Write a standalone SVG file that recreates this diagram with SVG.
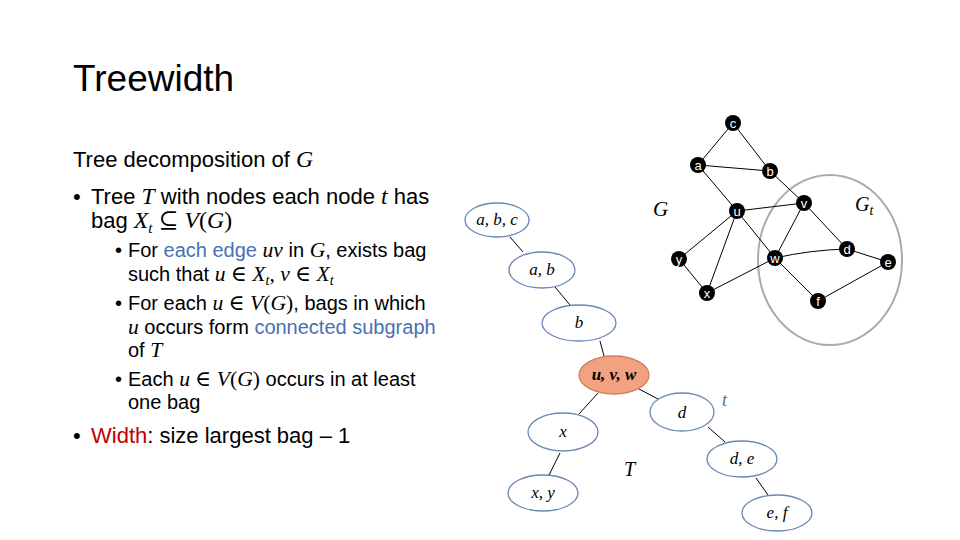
<svg xmlns="http://www.w3.org/2000/svg" width="960" height="540" viewBox="0 0 960 540">
<style>
.t1{font-family:"Liberation Sans",Arial,sans-serif;font-size:22px;fill:#000}
.t2{font-family:"Liberation Sans",Arial,sans-serif;font-size:20px;fill:#000}
.m{font-family:"Liberation Serif","DejaVu Serif",serif;font-style:italic;font-size:1.08em}
.mr{font-family:"Liberation Serif","DejaVu Serif",serif;font-size:1.08em}
.sub{font-family:"Liberation Serif","DejaVu Serif",serif;font-style:italic;font-size:0.7em}
.blue{fill:#4A6FB5}
.red{fill:#C00000}
.edge{stroke:#000;stroke-width:1}
.gn{fill:#000}
.gl{font-family:"Liberation Sans",Arial,sans-serif;font-size:13px;fill:#fff;text-anchor:middle}
.bag{fill:#fff;stroke:#6B86B5;stroke-width:1.3}
.bagh{fill:#F2A283;stroke:#C8805F;stroke-width:1.3}
.bl{font-family:"Liberation Serif","DejaVu Serif",serif;font-style:italic;font-size:17px;fill:#000;text-anchor:middle}
</style>
<rect width="960" height="540" fill="#fff"/>
<text x="73" y="91" style="font-family:'Liberation Sans',Arial,sans-serif;font-size:37px;fill:#000">Treewidth</text>

<g id="text">
<text class="t1" x="73" y="167">Tree decomposition of <tspan class="m">G</tspan></text>
<text class="t1" x="73" y="204">•</text>
<text class="t1" x="91" y="204">Tree <tspan class="m">T</tspan> with nodes each node <tspan class="m">t</tspan> has</text>
<text class="t1" x="91" y="228">bag <tspan class="m">X</tspan><tspan class="sub" dy="5">t</tspan><tspan dy="-5"> </tspan><tspan class="mr">⊆ </tspan><tspan class="m">V</tspan><tspan class="mr">(</tspan><tspan class="m">G</tspan><tspan class="mr">)</tspan></text>
<text class="t2" x="115" y="257">•</text>
<text class="t2" x="128" y="257">For <tspan class="blue">each edge</tspan> <tspan class="m">uv</tspan> in <tspan class="m">G</tspan>, exists bag</text>
<text class="t2" x="128" y="281">such that <tspan class="m">u</tspan><tspan class="mr"> ∈ </tspan><tspan class="m">X</tspan><tspan class="sub" dy="4">t</tspan><tspan class="mr" dy="-4">, </tspan><tspan class="m">v</tspan><tspan class="mr"> ∈ </tspan><tspan class="m">X</tspan><tspan class="sub" dy="4">t</tspan></text>
<text class="t2" x="115" y="310">•</text>
<text class="t2" x="128" y="310">For each <tspan class="m">u</tspan><tspan class="mr"> ∈ </tspan><tspan class="m">V</tspan><tspan class="mr">(</tspan><tspan class="m">G</tspan><tspan class="mr">)</tspan>, bags in which</text>
<text class="t2" x="128" y="334"><tspan class="m">u</tspan> occurs form <tspan class="blue">connected subgraph</tspan></text>
<text class="t2" x="128" y="357">of <tspan class="m">T</tspan></text>
<text class="t2" x="115" y="386">•</text>
<text class="t2" x="128" y="386">Each <tspan class="m">u</tspan><tspan class="mr"> ∈ </tspan><tspan class="m">V</tspan><tspan class="mr">(</tspan><tspan class="m">G</tspan><tspan class="mr">)</tspan> occurs in at least</text>
<text class="t2" x="128" y="409">one bag</text>
<text class="t1" x="73" y="443">•</text>
<text class="t1" x="91" y="443"><tspan class="red">Width</tspan>: size largest bag – 1</text>
</g>

<!-- Graph G -->
<ellipse id="Gt-region" cx="830" cy="260" rx="72" ry="85" fill="none" stroke="#AAAAAA" stroke-width="2"/>
<text x="653" y="216" style="font-family:'Liberation Serif',serif;font-style:italic;font-size:21px">G</text>
<text x="855" y="211" style="font-family:'Liberation Serif',serif;font-style:italic;font-size:20px">G<tspan style="font-size:14px" dy="4">t</tspan></text>

<g id="graph-edges">
<line class="edge" x1="733" y1="123" x2="698" y2="165"/>
<line class="edge" x1="733" y1="123" x2="770" y2="171"/>
<line class="edge" x1="698" y1="165" x2="770" y2="171"/>
<line class="edge" x1="698" y1="165" x2="737" y2="211"/>
<line class="edge" x1="770" y1="171" x2="804" y2="203"/>
<line class="edge" x1="737" y1="211" x2="804" y2="203"/>
<line class="edge" x1="737" y1="211" x2="679" y2="259"/>
<line class="edge" x1="737" y1="211" x2="707" y2="293"/>
<line class="edge" x1="737" y1="211" x2="775" y2="258"/>
<line class="edge" x1="804" y1="203" x2="775" y2="258"/>
<line class="edge" x1="804" y1="203" x2="847" y2="249"/>
<line class="edge" x1="679" y1="259" x2="707" y2="293"/>
<line class="edge" x1="707" y1="293" x2="775" y2="258"/>
<path class="edge" fill="none" d="M775 258 Q810 250 847 249"/>
<line class="edge" x1="775" y1="258" x2="818" y2="301"/>
<line class="edge" x1="847" y1="249" x2="888" y2="262"/>
<line class="edge" x1="888" y1="262" x2="818" y2="301"/>
</g>

<g id="gnode-c"><circle class="gn" cx="733" cy="123" r="8"/><text class="gl" x="733" y="127.5">c</text></g>
<g id="gnode-a"><circle class="gn" cx="698" cy="165" r="8"/><text class="gl" x="698" y="169.5">a</text></g>
<g id="gnode-b"><circle class="gn" cx="770" cy="171" r="8"/><text class="gl" x="770" y="175.5">b</text></g>
<g id="gnode-u"><circle class="gn" cx="737" cy="211" r="8"/><text class="gl" x="737" y="215.5">u</text></g>
<g id="gnode-v"><circle class="gn" cx="804" cy="203" r="8"/><text class="gl" x="804" y="207.5">v</text></g>
<g id="gnode-y"><circle class="gn" cx="679" cy="259" r="8"/><text class="gl" x="679" y="263.5">y</text></g>
<g id="gnode-w"><circle class="gn" cx="775" cy="258" r="8"/><text class="gl" x="775" y="262.5">w</text></g>
<g id="gnode-d"><circle class="gn" cx="847" cy="249" r="8"/><text class="gl" x="847" y="253.5">d</text></g>
<g id="gnode-e"><circle class="gn" cx="888" cy="262" r="8"/><text class="gl" x="888" y="266.5">e</text></g>
<g id="gnode-x"><circle class="gn" cx="707" cy="293" r="8"/><text class="gl" x="707" y="297.5">x</text></g>
<g id="gnode-f"><circle class="gn" cx="818" cy="301" r="8"/><text class="gl" x="818" y="305.5">f</text></g>

<!-- Tree T -->
<g id="tree-edges">
<line class="edge" x1="510" y1="237" x2="523" y2="252"/>
<line class="edge" x1="555" y1="287" x2="570" y2="305"/>
<line class="edge" x1="600" y1="341" x2="604" y2="356"/>
<line class="edge" x1="598" y1="393" x2="579" y2="414"/>
<line class="edge" x1="639" y1="389" x2="658" y2="399"/>
<line class="edge" x1="708" y1="427" x2="725" y2="442"/>
<line class="edge" x1="560" y1="453" x2="549" y2="475"/>
<line class="edge" x1="756" y1="478" x2="768" y2="495"/>
</g>

<g id="bag-abc"><ellipse class="bag" cx="497" cy="220" rx="32" ry="17"/><text class="bl" x="497" y="225">a, b, c</text></g>
<g id="bag-ab"><ellipse class="bag" cx="542" cy="270" rx="33" ry="18"/><text class="bl" x="542" y="275">a, b</text></g>
<g id="bag-b"><ellipse class="bag" cx="579" cy="323" rx="37" ry="18"/><text class="bl" x="579" y="328">b</text></g>
<g id="bag-uvw"><ellipse class="bagh" cx="614" cy="375" rx="35" ry="19"/><text class="bl" x="614" y="380" font-weight="bold">u, v, w</text></g>
<g id="bag-d"><ellipse class="bag" cx="682" cy="412" rx="32" ry="19"/><text class="bl" x="682" y="418">d</text></g>
<g id="bag-x"><ellipse class="bag" cx="563" cy="432" rx="35" ry="19"/><text class="bl" x="563" y="437">x</text></g>
<g id="bag-xy"><ellipse class="bag" cx="543" cy="493" rx="35" ry="18"/><text class="bl" x="543" y="498">x, y</text></g>
<g id="bag-de"><ellipse class="bag" cx="742" cy="459" rx="35" ry="18"/><text class="bl" x="742" y="464">d, e</text></g>
<g id="bag-ef"><ellipse class="bag" cx="777" cy="513" rx="35" ry="18"/><text class="bl" x="777" y="518">e, f</text></g>

<text x="722" y="406" style="font-family:'Liberation Serif',serif;font-style:italic;font-size:18px;fill:#4A6FB5">t</text>
<text x="624" y="476" style="font-family:'Liberation Serif',serif;font-style:italic;font-size:20px">T</text>
</svg>
